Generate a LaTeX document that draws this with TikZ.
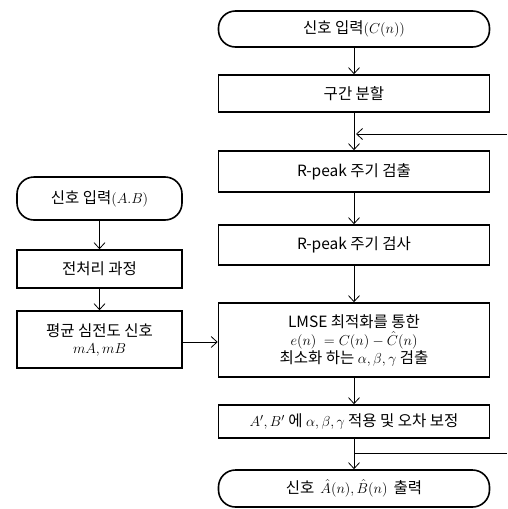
\documentclass[tikz,border=0pt]{standalone}
\usepackage{fontspec}
\setmainfont{Noto Sans CJK KR}
\usetikzlibrary{arrows.meta}
\begin{document}
\begin{tikzpicture}[x=1pt,y=-1pt,
  font=\fontsize{15.5}{22}\selectfont,
  box/.style={draw, line width=1.6pt, inner sep=0pt, align=center, minimum width=#1},
  box/.default=271pt,
  term/.style={box=#1, rounded corners=17pt},
  term/.default=271pt,
  conn/.style={line width=0.8pt, -{Straight Barb[length=6pt,width=11pt]}},
  plain/.style={line width=0.8pt}]
\useasboundingbox (0,0) rectangle (507,509);
% right column
\node[term, minimum height=36pt] (cin) at (354,29) {신호 입력$(C(n))$};
\node[box, minimum height=37pt] (split) at (354,93.5) {구간 분할};
\node[box, minimum height=41pt] (detect) at (354,171.5) {R-peak 주기 검출};
\node[box, minimum height=40pt] (check) at (354,245) {R-peak 주기 검사};
\node[box, minimum height=74pt] (lmse) at (354,340) {LMSE 최적화를 통한\\[-4pt] $e(n)\ = C(n) - \hat{C}(n)$\\[-4pt] 최소화 하는 $\alpha,\beta,\gamma$ 검출};
\node[box, minimum height=33pt] (apply) at (354,421.5) {$A',B'$ 에 $\alpha,\beta,\gamma$ 적용 및 오차 보정};
\node[term, minimum height=37pt] (out) at (354,488.5) {신호 \,$\hat{A}(n),\hat{B}(n)$\, 출력};
% left column
\node[term=165pt, minimum height=43pt] (ain) at (99.5,198.5) {신호 입력$(A.B)$};
\node[box=165pt, minimum height=38pt] (pre) at (99.5,269) {전처리 과정};
\node[box=165pt, minimum height=57pt] (avg) at (99.5,339.5) {평균 심전도 신호\\[-5pt] $mA,mB$};
% connectors
\draw[conn] (cin) -- (split);
\draw[conn] (split) -- (detect);
\draw[conn] (detect) -- (check);
\draw[conn] (check) -- (lmse);
\draw[conn] (lmse) -- (apply);
\draw[conn] (apply) -- (out);
\draw[conn] (ain) -- (pre);
\draw[conn] (pre) -- (avg);
\draw[conn] (avg.east |- 0,342) -- (lmse.west |- 0,342);
\coordinate (fb1) at (507,134);
\coordinate (fb2) at (507,453);
\draw[conn, shorten >=2pt] (fb1) -- (fb1 -| split.south);
\draw[plain] (fb2) -- (fb2 -| apply.south);
\end{tikzpicture}
\end{document}
